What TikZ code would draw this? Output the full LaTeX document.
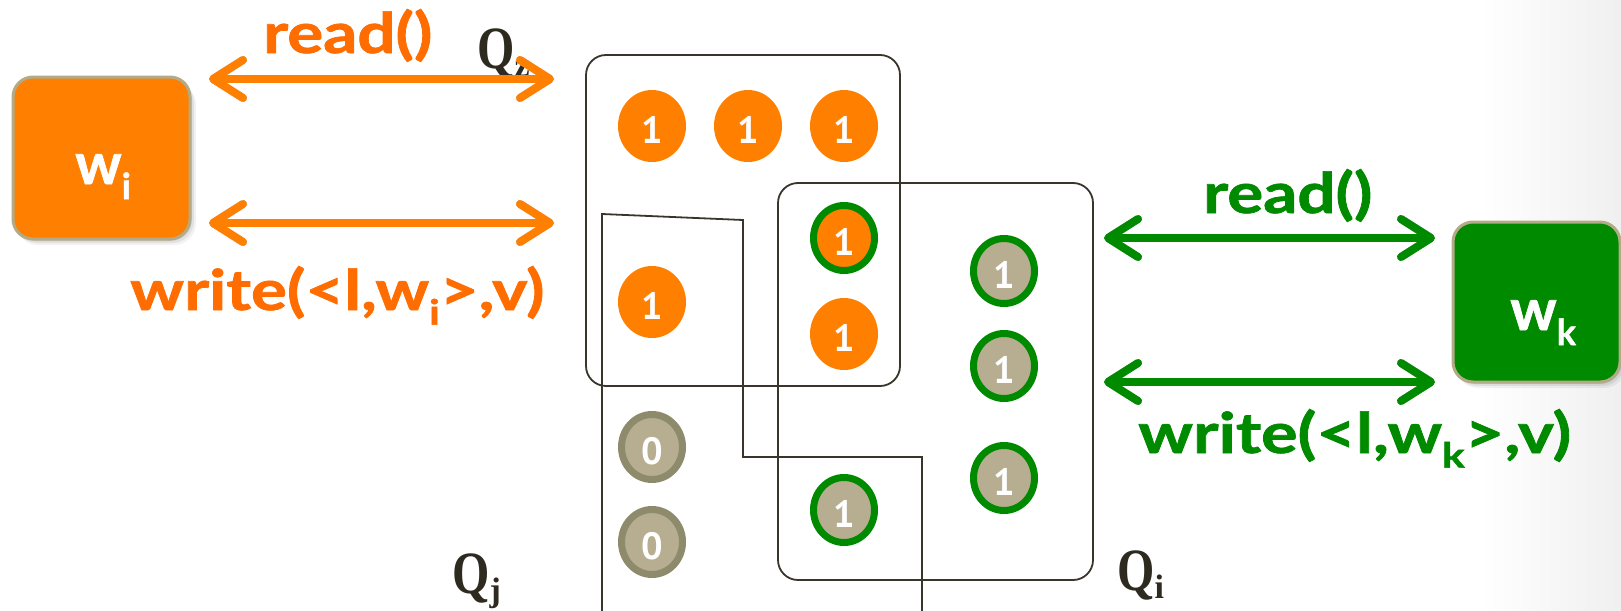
\documentclass[tikz,border=0pt]{standalone}
\usepackage{fontspec}
\usetikzlibrary{arrows.meta,shapes.geometric}
\newfontfamily\gill{Lato}[BoldFeatures={FakeBold=1.2}]
\newfontfamily\digitfont{PT Sans}
\newfontfamily\qfont{Liberation Serif}

\definecolor{orng}{HTML}{FF7F00}
\definecolor{orngtxt}{HTML}{FF6C00}
\definecolor{grn}{HTML}{008A00}
\definecolor{tanfill}{HTML}{B7AD90}
\definecolor{olive}{HTML}{8E8A6C}
\definecolor{ink}{HTML}{3A352B}
\definecolor{qink}{HTML}{2E2A20}
\definecolor{rim}{HTML}{B3AB88}

% lowered, smaller subscript in the current font
\newcommand\lowsub[1]{\raisebox{-0.26em}{\scalebox{0.62}{#1}}}
% digit shifted slightly below the coin centre
\newcommand\coindigit[1]{\raisebox{-4pt}[\height][\depth]{#1}}
% serif quorum name with its subscript
\newcommand\quorum[1]{\scalebox{0.8}[1]{Q}\raisebox{-8pt}{\fontsize{34}{34}\selectfont #1}}
% wide setting of the operation names
\newcommand\wide[2]{\scalebox{#1}[1]{#2}}

\tikzset{
  frame/.style={draw=ink, line width=1.8pt, rounded corners=20pt},
  cut/.style={draw=ink, line width=1.8pt},
  coin/.style={ellipse, inner sep=0pt, text=white,
    font=\digitfont\bfseries\fontsize{38}{38}\selectfont},
  coinplain/.style={coin, minimum width=68pt, minimum height=72pt},
  coinring/.style={coin, line width=7pt, minimum width=61pt, minimum height=65pt},
  orangecoin/.style={coinplain, fill=orng},
  orangering/.style={coinring, fill=orng, draw=grn},
  tanring/.style={coinring, fill=tanfill, draw=grn},
  zeroring/.style={coinring, fill=tanfill, draw=olive},
  opname/.style={inner sep=0pt, anchor=base west,
    font=\gill\bfseries\fontsize{56}{60}\selectfont},
  writerbox/.style={rounded corners=20pt, draw=rim, line width=3pt},
  writername/.style={inner sep=0pt, anchor=base west, text=white,
    font=\gill\bfseries\fontsize{58}{60}\selectfont},
  qname/.style={inner sep=0pt, anchor=base west, text=qink,
    font=\qfont\bfseries\fontsize{60}{60}\selectfont},
  barb/.tip={Straight Barb[length=30pt,width=38pt,line width=8pt,round]},
  biarrow/.style={line width=8pt, barb-barb},
  arrowshadow/.style={biarrow, draw=black!24, shift={(2,4)}},
}

\begin{document}
\begin{tikzpicture}[x=1pt,y=-1pt]
\useasboundingbox (0,0) rectangle (1621,610);
\clip (0,0) rectangle (1621,610);

% faint backdrop on the right edge
\shade[left color=white, right color=black!6] (1480,0) rectangle (1621,610);

% ---- quorum outlines ----
\draw[frame] (586,55) rectangle (900,386);
\draw[frame] (778,183) rectangle (1093,580);
\draw[cut] (602,615) -- (602,214) -- (743,220) -- (743,457) -- (922,457) -- (922,615);

\node[qname] (qz) at (477,68) {\quorum{z}};
\node[qname] (qj) at (452,593) {\quorum{j}};
\node[qname] (qi) at (1117,590) {\quorum{i}};

% ---- servers ----
\node[orangecoin] (s1) at (652,126) {\coindigit{1}};
\node[orangecoin] (s2) at (748,126) {\coindigit{1}};
\node[orangecoin] (s3) at (844,126) {\coindigit{1}};
\node[orangecoin] (s4) at (652,302) {\coindigit{1}};
\node[orangering] (s5) at (844,238) {\coindigit{1}};
\node[orangecoin] (s6) at (844,334) {\coindigit{1}};
\node[tanring] (s7) at (1004,271) {\coindigit{1}};
\node[tanring] (s8) at (1004,366) {\coindigit{1}};
\node[tanring] (s9) at (1004,478) {\coindigit{1}};
\node[tanring] (s10) at (844,510) {\coindigit{1}};
\node[zeroring] (s11) at (652,447) {\coindigit{0}};
\node[zeroring] (s12) at (652,542) {\coindigit{0}};

% ---- writers ----
\foreach \k/\o in {1/0.10,2/0.07,3/0.05}{
  \fill[black, opacity=\o, rounded corners=22pt]
    (13+\k,77+2*\k) rectangle (190+2*\k,239+2*\k);
  \fill[black, opacity=\o, rounded corners=22pt]
    (1453+\k,222+2*\k) rectangle (1620+2*\k,382+2*\k);
}
\draw[writerbox, fill=orng] (13,77) rectangle (190,239);
\coordinate (wibox) at (101,158);
\node[writername] (wi) at (75,184) {w\lowsub{i}};

\draw[writerbox, fill=grn] (1453,222) rectangle (1620,382);
\coordinate (wkbox) at (1536,302);
\node[writername] (wk) at (1510,330) {w\lowsub{k}};

% ---- message arrows ----
\coordinate (ir1) at (209,79);   \coordinate (qr1) at (554,79);
\coordinate (iw1) at (209,223);  \coordinate (qw1) at (554,223);
\coordinate (qr2) at (1104,238); \coordinate (kr2) at (1435,238);
\coordinate (qw2) at (1104,382); \coordinate (kw2) at (1435,382);

\foreach \a/\b in {ir1/qr1, iw1/qw1, qr2/kr2, qw2/kw2}
  \draw[arrowshadow] (\a) -- (\b);
\draw[biarrow, draw=orng] (ir1) -- (qr1);
\draw[biarrow, draw=orng] (iw1) -- (qw1);
\draw[biarrow, draw=grn] (qr2) -- (kr2);
\draw[biarrow, draw=grn] (qw2) -- (kw2);

% ---- operation labels ----
\node[opname, text=orngtxt] (readi) at (263,53) {\wide{1.2}{read()}};
\node[opname, text=orngtxt] (writei) at (130,310) {\wide{1.2}{write(<l,w\lowsub{i}>,v)}};
\node[opname, text=grn] (readk) at (1203,213) {\wide{1.2}{read()}};
\node[opname, text=grn] (writek) at (1138,453) {\wide{1.22}{write(<l,w\lowsub{k}>,v)}};
\end{tikzpicture}
\end{document}
